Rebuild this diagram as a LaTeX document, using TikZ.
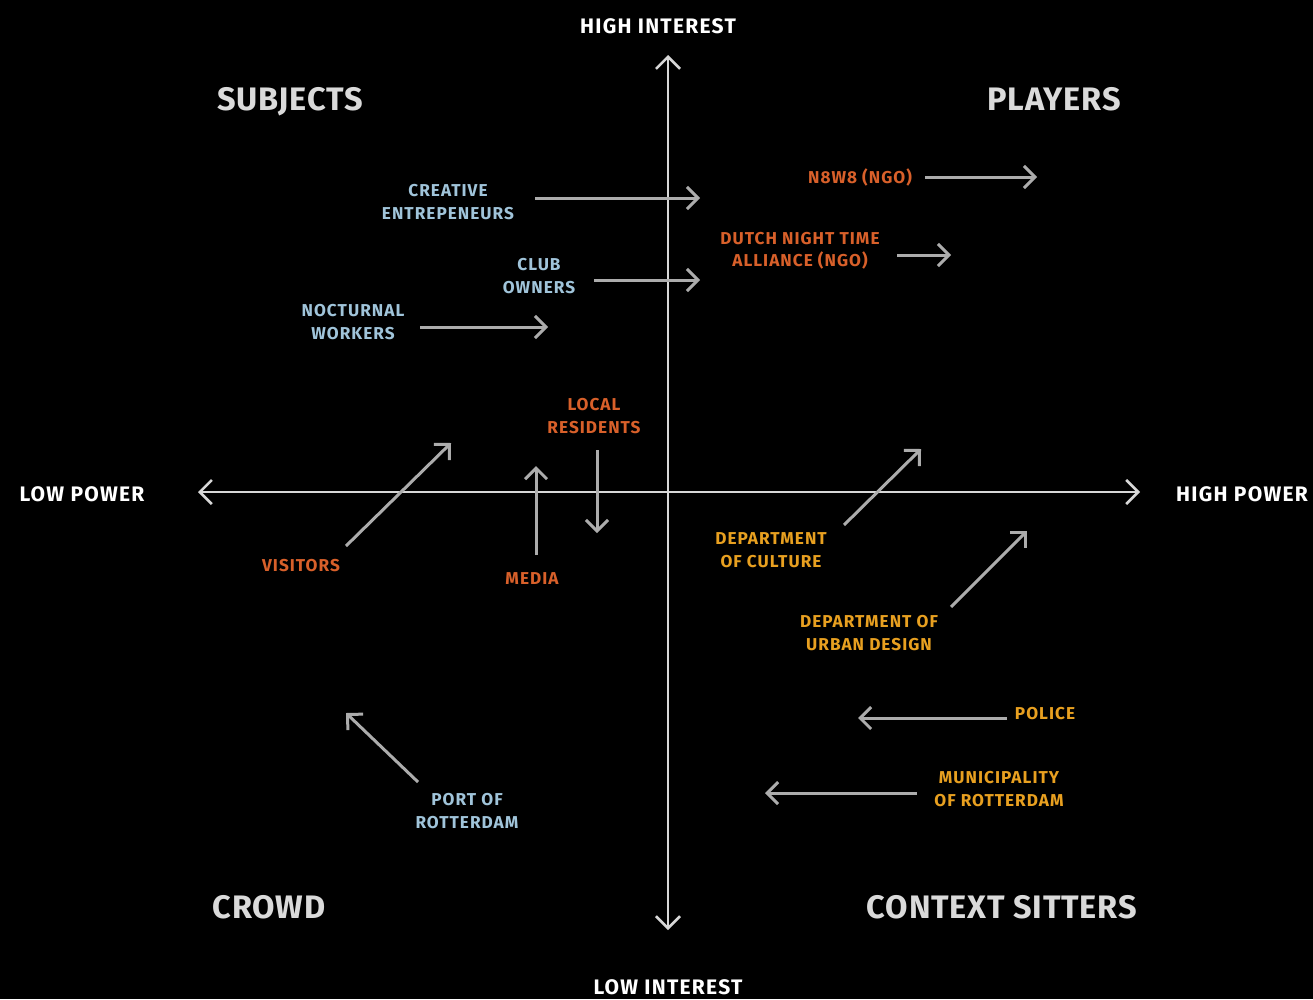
\documentclass[tikz,border=0pt]{standalone}
\usepackage{fontspec}
\setmainfont{Fira Sans}
\usetikzlibrary{arrows.meta}
\definecolor{bluet}{RGB}{160,196,218}
\definecolor{oranget}{RGB}{216,96,42}
\definecolor{yellowt}{RGB}{232,160,32}
\definecolor{axisc}{RGB}{215,215,215}
\definecolor{arrc}{RGB}{172,172,172}
\definecolor{titlec}{RGB}{218,218,218}
\tikzset{
  axisline/.style={draw=axisc,line width=2.2pt,{Straight Barb[length=12pt,width=24pt,line width=2.6pt]}-{Straight Barb[length=12pt,width=24pt,line width=2.6pt]}},
  arr/.style={draw=arrc,line width=3pt,-{Straight Barb[length=11pt,width=22pt]}},
  axislabel/.style={text=white,font=\fontsize{21}{25}\selectfont\bfseries\addfontfeature{LetterSpace=6},inner sep=0pt},
  quadtitle/.style={text=titlec,font=\fontsize{32.5}{38}\selectfont\bfseries\addfontfeature{LetterSpace=2.5},inner sep=0pt,anchor=base},
  lbl/.style={font=\fontsize{17.2}{22.5}\selectfont\bfseries\addfontfeature{LetterSpace=6},align=center,inner sep=0pt},
  bl/.style={lbl,text=bluet},
  orl/.style={lbl,text=oranget},
  yl/.style={lbl,text=yellowt}
}
\begin{document}
\begin{tikzpicture}[x=1pt,y=-1pt]
\fill[black] (0,0) rectangle (1313,999);
\useasboundingbox (0,0) rectangle (1313,999);
% axes
\coordinate (vtop) at (668,55);
\coordinate (vbot) at (668,930);
\coordinate (hleft) at (198,492);
\coordinate (hright) at (1140,492);
\draw[axisline] (vbot) -- (vtop);
\draw[axisline] (hleft) -- (hright);
% axis labels
\node[axislabel] (hi) at (658,26) {HIGH INTEREST};
\node[axislabel] (li) at (668,987) {LOW INTEREST};
\node[axislabel] (lp) at (82,494) {LOW POWER};
\node[axislabel] (hp) at (1242,494) {HIGH POWER};
% quadrant titles
\node[quadtitle] (subj) at (290,110) {SUBJECTS};
\node[quadtitle] (play) at (1054,110) {PLAYERS};
\node[quadtitle] (crowd) at (269,918) {CROWD};
\node[quadtitle] (ctx) at (1002,918) {CONTEXT SITTERS};
% stakeholders
\node[bl] (creative) at (448,202) {CREATIVE\\ENTREPENEURS};
\node[bl] (club) at (539,276) {CLUB\\OWNERS};
\node[bl] (noct) at (353,322) {NOCTURNAL\\WORKERS};
\node[orl] (n8w8) at (860,177) {N8W8 (NGO)};
\node[orl] (dnta) at (800,251) {DUTCH NIGHT TIME\\ALLIANCE (NGO)};
\node[orl] (local) at (594,416) {LOCAL\\RESIDENTS};
\node[orl] (visit) at (301,566) {VISITORS};
\node[orl] (media) at (532,579) {MEDIA};
\node[yl] (culture) at (771,550) {DEPARTMENT\\OF CULTURE};
\node[yl] (urban) at (869,633) {DEPARTMENT OF\\URBAN DESIGN};
\node[yl] (police) at (1045,714) {POLICE};
\node[yl] (muni) at (999,789) {MUNICIPALITY\\OF ROTTERDAM};
\node[bl] (port) at (467,811) {PORT OF\\ROTTERDAM};
% arrow endpoints
\coordinate (creativeS) at (535,198); \coordinate (creativeE) at (700,198);
\coordinate (clubS) at (594,280); \coordinate (clubE) at (700,280);
\coordinate (noctS) at (420,327); \coordinate (noctE) at (548,327);
\coordinate (n8w8S) at (925,177); \coordinate (n8w8E) at (1037,177);
\coordinate (dntaS) at (897,255); \coordinate (dntaE) at (951,255);
\coordinate (localS) at (597,450); \coordinate (localE) at (597,533);
\coordinate (visitS) at (346,546); \coordinate (visitE) at (451,443);
\coordinate (mediaS) at (536,555); \coordinate (mediaE) at (536,466);
\coordinate (cultureS) at (844,525); \coordinate (cultureE) at (921,449);
\coordinate (urbanS) at (951,607); \coordinate (urbanE) at (1027,531);
\coordinate (policeS) at (1007,718); \coordinate (policeE) at (858,718);
\coordinate (muniS) at (917,793); \coordinate (muniE) at (765,793);
\coordinate (portS) at (418,782); \coordinate (portE) at (346,713);
\foreach \n in {creative,club,noct,n8w8,dnta,local,visit,media,culture,urban,police,muni,port}
  \draw[arr] (\n S) -- (\n E);
\end{tikzpicture}
\end{document}
